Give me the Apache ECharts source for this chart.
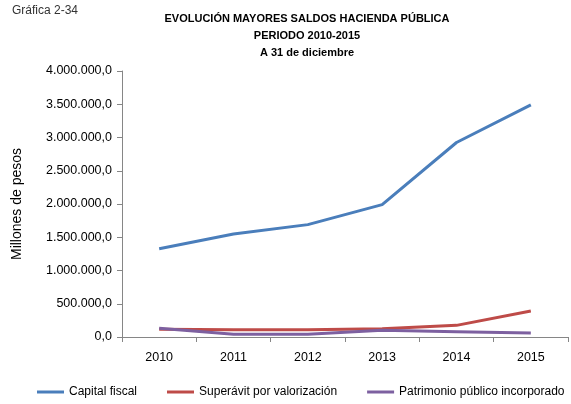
<!DOCTYPE html>
<html><head><meta charset="utf-8">
<script src="https://cdn.jsdelivr.net/npm/echarts@6/dist/echarts.min.js"></script>
<style>html,body{margin:0;padding:0;background:#fff}#c{width:571px;height:404px}</style>
</head><body><div id="c"></div>
<script>
const years = ['2010','2011','2012','2013','2014','2015'];
const capitalFiscal = [1326000, 1550000, 1690000, 1990000, 2925000, 3490000];
const superavit = [115000, 110000, 110000, 123000, 175000, 390000];
const patrimonio = [130000, 40000, 40000, 100000, 80000, 60000];
const seriesNames = ['Capital fiscal', 'Superávit por valorización', 'Patrimonio público incorporado'];
const colors = ['#4a7ebb', '#be4b48', '#7d60a0'];
const FONT = 'Liberation Sans';
function fmt(v){
  const s = Math.round(v).toString().replace(/\B(?=(\d{3})+(?!\d))/g, '.');
  return s + ',0';
}
const chart = echarts.init(document.getElementById('c'));
const mk = (name, data, color) => ({
  name, type: 'line', data, symbol: 'none', smooth: false,
  lineStyle: {width: 3, color}, itemStyle: {color}
});
chart.setOption({
  animation: false,
  textStyle: {fontFamily: FONT},
  graphic: [{type: 'text', left: 12, top: 5, style: {text: 'Gráfica 2-34', fontSize: 12, fontFamily: FONT, fill: '#333'}}],
  title: {
    text: 'EVOLUCIÓN MAYORES SALDOS HACIENDA PÚBLICA\nPERIODO 2010-2015\nA 31 de diciembre',
    left: 302, top: 5, textAlign: 'center',
    textStyle: {fontSize: 11, fontWeight: 'bold', color: '#000', lineHeight: 17, fontFamily: FONT}
  },
  legend: {
    bottom: 1, left: 32, itemWidth: 27, itemHeight: 3, itemGap: 30, icon: 'rect',
    textStyle: {fontSize: 12, color: '#000', fontFamily: FONT, padding: [0, 0, 0, 0]},
    data: seriesNames
  },
  grid: {left: 122, right: 3, top: 71, bottom: 67, containLabel: false},
  xAxis: {
    type: 'category', data: years, boundaryGap: true,
    axisLine: {lineStyle: {color: '#868686'}},
    axisTick: {show: true, length: 5, lineStyle: {color: '#868686'}},
    axisLabel: {fontSize: 12.5, color: '#000', margin: 14}
  },
  yAxis: {
    type: 'value', min: 0, max: 4000000, interval: 500000,
    name: 'Millones de pesos', nameLocation: 'middle', nameGap: 98, nameRotate: 90,
    nameTextStyle: {fontSize: 14, color: '#000'},
    axisLine: {show: true, lineStyle: {color: '#868686'}},
    axisTick: {show: true, length: 5, lineStyle: {color: '#868686'}},
    splitLine: {show: false},
    axisLabel: {fontSize: 12.5, color: '#000', margin: 10, formatter: fmt}
  },
  series: [
    mk(seriesNames[0], capitalFiscal, colors[0]),
    mk(seriesNames[1], superavit, colors[1]),
    mk(seriesNames[2], patrimonio, colors[2])
  ]
});
</script></body></html>
